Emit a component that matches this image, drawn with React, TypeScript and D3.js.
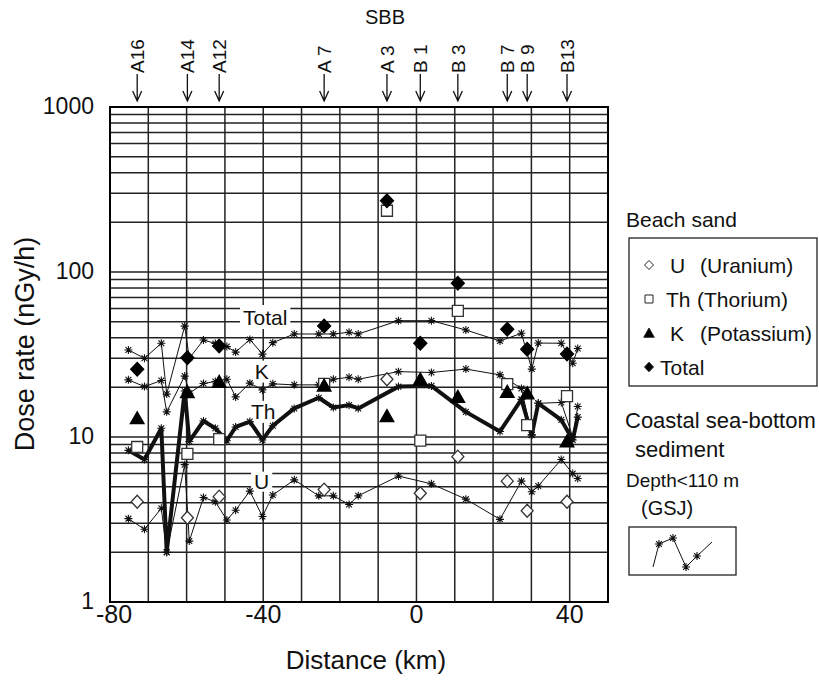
import React, { useEffect, useRef } from 'react';
import * as d3 from 'd3';

// stations of beach sand sampling (SBB)
const stationNames = ['A16', 'A14', 'A12', 'A 7', 'A 3', 'B 1', 'B 3', 'B 7', 'B 9', 'B13'];
const stationKm = [-72.9, -59.8, -51.5, -24.1, -7.7, 1.0, 10.8, 23.7, 28.9, 39.3];

// beach sand dose rates (nGy/h)
const beachU = [4.05, 3.24, 4.35, 4.8, 22.4, 4.56, 7.6, 5.4, 3.57, 4.05];
const beachTh = [8.7, 7.9, 9.7, 21, 235, 9.5, 58.2, 20.9, 11.8, 17.7];
const beachK = [13, 18.7, 21.6, 20.5, 13.4, 22.4, 17.5, 18.8, 18.4, 9.4];
const beachTotal = [25.7, 30.2, 35.6, 47, 270, 37, 85.5, 45, 34, 31.8];

// coastal sea-bottom sediment (GSJ)
const sedKm = [-75.2, -71.0, -66.6, -65.2, -60.5, -59.3, -55.6, -52.5, -49.5, -47.2, -43.5, -40.2, -37.5, -31.9,
  -25.5, -21.7, -17.6, -15.2, -4.7, 3.9, 12.9, 21.8, 27.4, 30.1, 31.8, 37.8, 40.8, 42.1];
const sedTotal = [33.7, 30, 37, 18.2, 47, 30, 38.7, 36.9, 35.3, 32.7, 39, 31.8, 37.3, 42.1,
  42.1, 42.1, 43.1, 42.1, 50.7, 50.7, 44.5, 38.2, 42.5, 25.8, 37.1, 37, 28, 34.4];
const sedK = [22.2, 20.2, 22, 14.2, 23.4, 18.4, 21.1, 21.7, 22.4, 17.5, 21.2, 19.3, 21, 20.7,
  20.7, 22.4, 23, 22.4, 24.9, 24.6, 25.8, 23.8, 19.7, 10.3, 16, 16.2, 10, 15.3];
const sedTh = [8.3, 7.3, 11.3, 2.0, 19, 9.4, 12.5, 11.3, 9.5, 11.5, 12.4, 9.6, 11.7, 14.9,
  17.3, 15.1, 15.6, 14.9, 20.2, 20.4, 14.2, 10.8, 16.9, 10.3, 16, 12.7, 9.6, 13.2];
const sedU = [3.2, 2.76, 3.7, 2.0, 6.8, 2.34, 4.3, 4.05, 3.14, 3.6, 4.7, 3.3, 4.45, 5.5,
  4.4, 4.4, 3.9, 4.4, 5.8, 5.2, 4.2, 3.17, 5.4, 4.66, 5.05, 7.3, 6.0, 5.6];

const xTicks = [-80, -40, 0, 40];
const yTicks = [1, 10, 100, 1000];

const seriesLabels = [
  { text: 'Total', value: 53.3, km: -39.5, half: 12 },
  { text: 'K', value: 24.9, km: -40.4, half: 11 },
  { text: 'Th', value: 14.2, km: -40.0, half: 11 },
  { text: 'U', value: 5.36, km: -40.4, half: 10 },
];

const FONT = 'Arial, "Liberation Sans", Helvetica, sans-serif';
const ASTERISK = 'M-4,0H4M0,-4V4M-2.9,-2.9L2.9,2.9M-2.9,2.9L2.9,-2.9';

const diamond = (w: number, h: number) => `M0,${-h}L${w},0L0,${h}L${-w},0Z`;
const triangle = (s: number) => `M0,${-s}L${s * 1.05},${s * 0.85}L${-s * 1.05},${s * 0.85}Z`;

const DoseChart = () => {
  const ref = useRef<SVGSVGElement>(null);

  useEffect(() => {
    const svg = d3.select(ref.current);
    svg.selectAll('*').remove();

    const left = 110, right = 608, top = 107, bottom = 602;
    const x = d3.scaleLinear().domain([-80, 50]).range([left, right]);
    const y = d3.scaleLog().domain([1, 1000]).range([bottom, top]);

    svg.append('rect').attr('width', 819).attr('height', 681).attr('fill', '#fff');

    const g = svg.append('g');

    // grid
    g.selectAll('.vgrid')
      .data(d3.range(-70, 50, 10))
      .enter().append('line')
      .attr('x1', d => x(d)).attr('x2', d => x(d))
      .attr('y1', top).attr('y2', bottom)
      .attr('stroke', '#222').attr('stroke-width', 1.5);

    g.selectAll('.hgrid')
      .data(y.ticks().filter(d => d > 1 && d < 1000))
      .enter().append('line')
      .attr('x1', left).attr('x2', right)
      .attr('y1', d => y(d)).attr('y2', d => y(d))
      .attr('stroke', '#222').attr('stroke-width', 1.5);

    // series labels on white boxes
    const labG = g.append('g');
    seriesLabels.forEach(l => {
      const cx = x(l.km), cy = y(l.value);
      const rect = labG.append('rect').attr('fill', '#fff');
      const t = labG.append('text')
        .attr('x', cx).attr('y', cy)
        .attr('dy', '0.36em')
        .attr('text-anchor', 'middle')
        .attr('font-family', FONT).attr('font-size', 21)
        .attr('fill', '#111')
        .text(l.text);
      const w = (t.node() as SVGTextElement).getComputedTextLength() || l.text.length * 12;
      rect.attr('x', cx - w / 2 - 3).attr('y', cy - l.half)
        .attr('width', w + 6).attr('height', l.half * 2);
    });

    // sediment lines
    const line = d3.line<number>()
      .x((_, i) => x(sedKm[i]))
      .y(d => y(d));

    const sedSeries = [
      { values: sedTotal, width: 1 },
      { values: sedK, width: 1 },
      { values: sedU, width: 1 },
      { values: sedTh, width: 4 },
    ];

    sedSeries.forEach(s => {
      g.append('path')
        .attr('d', line(s.values))
        .attr('fill', 'none')
        .attr('stroke', '#111')
        .attr('stroke-width', s.width)
        .attr('stroke-linejoin', 'round');
      g.append('g').selectAll('path')
        .data(s.values)
        .enter().append('path')
        .attr('transform', (d, i) => `translate(${x(sedKm[i])},${y(d)})`)
        .attr('d', ASTERISK)
        .attr('stroke', '#111')
        .attr('stroke-width', 1.1)
        .attr('fill', 'none');
    });

    // beach sand markers
    const beach = [
      { values: beachU, d: diamond(6, 6.5), fill: '#fff', stroke: '#333' },
      { values: beachTh, d: 'M-5.5,-5.5H5.5V5.5H-5.5Z', fill: '#fff', stroke: '#333' },
      { values: beachK, d: triangle(6.5), fill: '#000', stroke: '#000' },
      { values: beachTotal, d: diamond(6.5, 6.8), fill: '#000', stroke: '#000' },
    ];
    beach.forEach(b => {
      g.append('g').selectAll('path')
        .data(b.values)
        .enter().append('path')
        .attr('transform', (d, i) => `translate(${x(stationKm[i])},${y(d)})`)
        .attr('d', b.d)
        .attr('fill', b.fill)
        .attr('stroke', b.stroke)
        .attr('stroke-width', 1.3);
    });

    // frame
    g.append('rect')
      .attr('x', left).attr('y', top)
      .attr('width', right - left).attr('height', bottom - top)
      .attr('fill', 'none').attr('stroke', '#000').attr('stroke-width', 2);

    // axis tick labels
    g.selectAll('.xt')
      .data(xTicks)
      .enter().append('text')
      .attr('x', d => (d === -80 ? x(d) - 14 : x(d)))
      .attr('y', bottom + 21)
      .attr('text-anchor', d => (d === -80 ? 'start' : 'middle'))
      .attr('font-family', FONT).attr('font-size', 25).attr('fill', '#111')
      .text(d => String(d));

    g.selectAll('.yt')
      .data(yTicks)
      .enter().append('text')
      .attr('x', left - 16).attr('y', d => y(d) - 1)
      .attr('dy', '0.36em')
      .attr('text-anchor', 'end')
      .attr('font-family', FONT).attr('font-size', 23).attr('fill', '#111')
      .text(d => String(d));

    // axis titles
    g.append('text')
      .attr('x', 366).attr('y', 669)
      .attr('text-anchor', 'middle')
      .attr('font-family', FONT).attr('font-size', 26).attr('fill', '#111')
      .text('Distance (km)');

    g.append('text')
      .attr('transform', 'translate(34,344) rotate(-90)')
      .attr('text-anchor', 'middle')
      .attr('font-family', FONT).attr('font-size', 27).attr('fill', '#111')
      .text('Dose rate (nGy/h)');

    // stations on top
    g.append('text')
      .attr('x', 385).attr('y', 24)
      .attr('text-anchor', 'middle')
      .attr('font-family', FONT).attr('font-size', 20).attr('fill', '#111')
      .text('SBB');

    const st = g.append('g').selectAll('g')
      .data(stationNames)
      .enter().append('g')
      .attr('transform', (_, i) => `translate(${x(stationKm[i])},0)`);
    st.append('path')
      .attr('d', 'M0,74V101M-4.5,91L0,101L4.5,91')
      .attr('fill', 'none').attr('stroke', '#111').attr('stroke-width', 1.3);
    st.append('text')
      .attr('transform', 'translate(0,73) rotate(-90)')
      .attr('dy', '0.36em')
      .attr('font-family', FONT).attr('font-size', 19).attr('fill', '#111')
      .text(d => d);

    // legend: beach sand
    const lg = svg.append('g').attr('font-family', FONT).attr('fill', '#111');
    lg.append('text').attr('x', 626).attr('y', 227).attr('font-size', 21).text('Beach sand');
    lg.append('rect')
      .attr('x', 629).attr('y', 238).attr('width', 188).attr('height', 148)
      .attr('fill', 'none').attr('stroke', '#222').attr('stroke-width', 1.3);

    const legendItems = [
      { d: diamond(4.5, 4.5), fill: '#fff', a: 'U', ax: 670, b: '(Uranium)', bx: 700 },
      { d: 'M-4,-4H4V4H-4Z', fill: '#fff', a: 'Th', ax: 666, b: '(Thorium)', bx: 697 },
      { d: triangle(5), fill: '#000', a: 'K', ax: 670, b: '(Potassium)', bx: 700 },
      { d: diamond(4.5, 4.8), fill: '#000', a: 'Total', ax: 660, b: '', bx: 0 },
    ];
    legendItems.forEach((it, i) => {
      const cy = 265 + i * 34;
      lg.append('path')
        .attr('transform', `translate(649,${cy})`)
        .attr('d', it.d).attr('fill', it.fill)
        .attr('stroke', '#222').attr('stroke-width', 1);
      lg.append('text').attr('x', it.ax).attr('y', cy + 7.5).attr('font-size', 21).text(it.a);
      if (it.b) lg.append('text').attr('x', it.bx).attr('y', cy + 7.5).attr('font-size', 21).text(it.b);
    });

    // legend: sediment
    lg.append('text').attr('x', 625).attr('y', 428).attr('font-size', 22).text('Coastal sea-bottom');
    lg.append('text').attr('x', 635).attr('y', 457).attr('font-size', 22).text('sediment');
    lg.append('text').attr('x', 626).attr('y', 487).attr('font-size', 19).text('Depth<110 m');
    lg.append('text').attr('x', 641).attr('y', 515).attr('font-size', 20).text('(GSJ)');
    lg.append('rect')
      .attr('x', 629).attr('y', 527).attr('width', 107).attr('height', 48)
      .attr('fill', 'none').attr('stroke', '#222').attr('stroke-width', 1.3);
    const sample: [number, number][] = [[653, 567], [659, 544], [673, 538], [686, 567], [697, 556], [712, 542]];
    lg.append('path')
      .attr('d', d3.line()(sample))
      .attr('fill', 'none').attr('stroke', '#111').attr('stroke-width', 1);
    lg.selectAll('.ls')
      .data(sample.slice(1, 5))
      .enter().append('path')
      .attr('transform', d => `translate(${d[0]},${d[1]})`)
      .attr('d', ASTERISK)
      .attr('stroke', '#111').attr('stroke-width', 1.1).attr('fill', 'none');
  }, []);

  return (
    <svg ref={ref} width={819} height={681}
      style={{ position: 'absolute', left: 0, top: 0, display: 'block' }} />
  );
};

export default function App() {
  return <DoseChart />;
}
